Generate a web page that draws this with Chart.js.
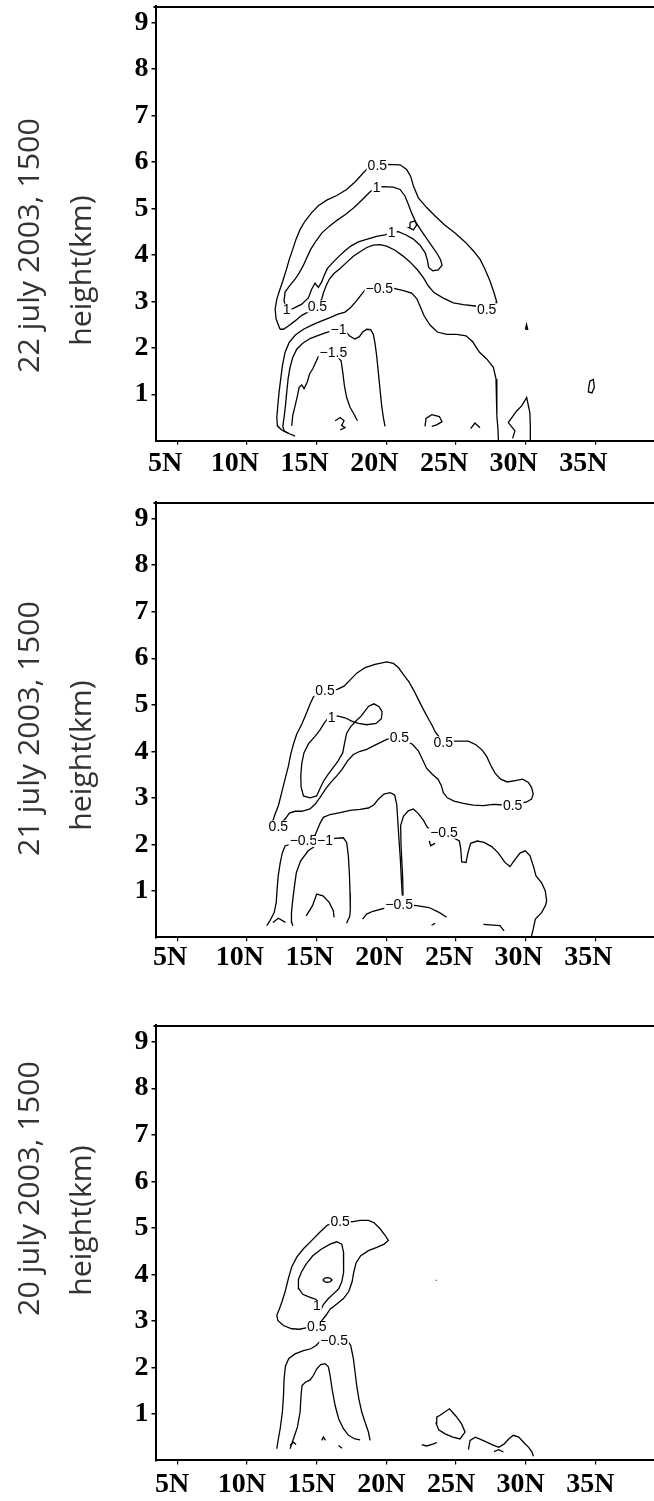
<!DOCTYPE html>
<html>
<head>
<meta charset="utf-8">
<script src="https://cdn.jsdelivr.net/npm/chart.js@4.4.1/dist/chart.umd.min.js"></script>
<style>
  html, body { margin: 0; padding: 0; background: #fff; width: 654px; height: 1501px; overflow: hidden; }
  canvas { position: absolute; left: 0; }
  .side { position: absolute; font-family: 'Open Sans', sans-serif; font-size: 29px; line-height: 1; color: #333; white-space: nowrap; transform-origin: center center; }
</style>
</head>
<body>
<script>
// axes
var latTicks = [5, 10, 15, 20, 25, 30, 35];
var latLabels = ['5N', '10N', '15N', '20N', '25N', '30N', '35N'];
var heightTicks = [1, 2, 3, 4, 5, 6, 7, 8, 9];
var dateTitles = ['22 july 2003, 1500', '21 july 2003, 1500', '20 july 2003, 1500'];
var heightTitle = 'height(km)';

// ---- 22 july: contour lines as [lat, height km] ----
var p1_c05 = [[12.38,2.40],[12.10,2.62],[12.03,2.83],[12.15,3.05],[12.34,3.23],[12.58,3.44],[12.81,3.66],[13.05,3.91],[13.29,4.12],[13.53,4.34],[13.82,4.55],[14.18,4.73],[14.65,4.91],[15.13,5.06],[15.73,5.18],[16.45,5.28],[17.16,5.41],[17.76,5.57],[18.36,5.77],[18.72,5.88],[19.36,5.93],[20.03,5.95],[20.99,5.94],[21.46,5.84],[21.75,5.69],[21.94,5.49],[22.30,5.23],[22.90,5.02],[23.50,4.84],[24.21,4.64],[24.93,4.47],[25.65,4.28],[26.24,4.09],[26.72,3.91],[27.08,3.69],[27.44,3.44],[27.72,3.19],[27.92,2.99],[27.87,2.87],[27.20,2.85],[26.36,2.90],[25.53,2.93],[24.81,2.97],[24.09,3.07],[23.42,3.19],[23.02,3.33],[22.66,3.51],[22.23,3.68],[21.70,3.85],[21.18,3.98],[20.63,4.10],[20.03,4.19],[19.55,4.22],[19.07,4.21],[18.60,4.16],[18.12,4.07],[17.64,3.97],[17.16,3.84],[16.69,3.71],[16.25,3.60],[15.92,3.48],[15.68,3.33],[15.49,3.18],[15.37,3.05],[15.06,2.89],[14.45,2.78],[13.94,2.70],[13.46,2.58],[12.98,2.47],[12.62,2.40],[12.38,2.40]];
var p1_c1 = [[12.86,2.82],[12.67,3.01],[12.74,3.20],[13.05,3.33],[13.46,3.48],[13.77,3.62],[14.06,3.78],[14.30,3.94],[14.58,4.12],[14.96,4.30],[15.37,4.47],[15.92,4.62],[16.49,4.75],[17.12,4.88],[17.69,5.02],[18.31,5.20],[18.84,5.36],[19.31,5.45],[19.67,5.47],[20.51,5.46],[20.99,5.41],[21.34,5.27],[21.58,5.09],[21.82,4.90],[22.11,4.71],[22.47,4.54],[22.90,4.35],[23.30,4.18],[23.66,4.02],[23.90,3.89],[24.00,3.78],[23.73,3.68],[23.33,3.66],[23.04,3.73],[22.95,3.89],[22.78,4.05],[22.42,4.21],[21.94,4.34],[21.42,4.43],[20.87,4.50],[20.39,4.48],[19.91,4.43],[19.31,4.40],[18.64,4.34],[18.00,4.28],[17.45,4.19],[17.04,4.09],[16.64,3.98],[16.21,3.85],[15.78,3.71],[15.54,3.55],[15.37,3.42],[15.13,3.30],[14.89,3.39],[14.65,3.26],[14.42,3.08],[13.94,2.94],[13.34,2.85],[12.98,2.82],[12.86,2.82]];
var p1_c1_small = [[21.70,4.70],[22.06,4.73],[22.18,4.64],[21.94,4.54],[21.63,4.59],[21.70,4.70]];
var p1_n05 = [[12.98,0.16],[12.50,0.23],[12.19,0.32],[12.15,0.50],[12.22,0.75],[12.31,1.04],[12.43,1.33],[12.55,1.61],[12.74,1.90],[13.03,2.11],[13.46,2.27],[14.06,2.40],[14.73,2.50],[15.37,2.58],[15.97,2.65],[16.49,2.72],[17.04,2.77],[17.45,2.87],[17.83,3.00],[18.17,3.13],[18.48,3.25],[19.50,3.28],[20.56,3.28],[21.23,3.23],[21.82,3.18],[22.18,3.06],[22.42,2.90],[22.71,2.69],[23.14,2.49],[23.66,2.34],[24.33,2.29],[25.05,2.29],[25.72,2.26],[26.20,2.13],[26.67,1.91],[27.20,1.76],[27.68,1.58],[27.87,1.33],[27.92,0.90],[27.94,0.54],[28.01,0.25],[28.04,0.00]];
var p1_n1 = [[13.46,0.10],[13.05,0.15],[12.67,0.21],[12.58,0.31],[12.67,0.50],[12.77,0.75],[12.86,1.04],[12.96,1.33],[13.10,1.58],[13.29,1.79],[13.58,1.97],[14.01,2.10],[14.53,2.20],[15.13,2.27],[15.73,2.33],[16.09,2.36],[16.57,2.39],[17.04,2.37],[17.35,2.26],[17.74,2.19],[18.07,2.24],[18.31,2.34],[18.60,2.40],[18.88,2.39],[19.07,2.29],[19.19,2.10],[19.31,1.83],[19.43,1.47],[19.55,1.11],[19.67,0.75],[19.79,0.50],[19.91,0.31]];
var p1_n15 = [[13.22,0.32],[13.29,0.54],[13.46,0.75],[13.63,0.97],[13.75,1.15],[13.94,1.20],[14.10,1.12],[14.34,1.27],[14.49,1.43],[14.73,1.55],[14.96,1.70],[15.13,1.81],[16.21,1.90],[16.76,1.72],[16.88,1.47],[17.00,1.18],[17.16,0.93],[17.40,0.72],[17.69,0.57],[17.93,0.43]];
var p1_hook = [[16.33,0.43],[16.69,0.50],[16.97,0.43],[16.80,0.33],[17.04,0.28],[16.69,0.23]];
var p1_cell = [[22.78,0.31],[22.85,0.48],[23.26,0.56],[23.81,0.52],[24.00,0.41],[23.61,0.34],[23.26,0.31]];
var p1_arch = [[26.05,0.26],[26.36,0.38],[26.72,0.28]];
var p1_spike = [[30.33,0.00],[30.33,0.30],[30.30,0.60],[30.07,0.93],[29.71,0.75],[29.35,0.64],[28.75,0.39],[29.23,0.21],[29.06,0.05]];
var p1_tri = [[29.98,2.40],[30.14,2.40],[30.06,2.50],[29.98,2.40]];
var p1_ring = [[34.50,1.10],[34.60,1.28],[34.85,1.32],[34.92,1.15],[34.75,1.03],[34.50,1.05],[34.50,1.10]];
var p1_labels = [[19.36,5.92,'0.5'],[19.31,5.45,'1'],[20.39,4.48,'1'],[19.50,3.28,'\u22120.5'],[27.20,2.83,'0.5'],[12.86,2.82,'1'],[15.06,2.89,'0.5'],[16.57,2.39,'\u22121'],[16.21,1.90,'\u22121.5']];

// ---- 21 july ----
var p2_c05 = [[12.26,2.38],[11.86,2.50],[12.03,2.65],[12.26,2.83],[12.50,3.11],[12.74,3.40],[12.98,3.68],[13.15,3.94],[13.34,4.15],[13.58,4.37],[13.94,4.58],[14.25,4.80],[14.53,5.01],[14.77,5.17],[15.61,5.30],[16.49,5.33],[16.97,5.40],[17.40,5.53],[17.88,5.68],[18.48,5.80],[19.19,5.87],[20.03,5.92],[20.51,5.89],[20.87,5.80],[21.23,5.65],[21.63,5.49],[21.99,5.30],[22.32,5.10],[22.66,4.90],[23.02,4.70],[23.30,4.55],[23.50,4.42],[24.09,4.19],[24.93,4.22],[25.88,4.22],[26.43,4.14],[26.86,4.03],[27.20,3.89],[27.49,3.70],[27.80,3.53],[28.20,3.40],[28.68,3.34],[29.25,3.37],[29.78,3.40],[30.19,3.33],[30.42,3.22],[30.54,3.08],[30.42,2.97],[30.07,2.91],[29.06,2.84],[28.20,2.85],[27.68,2.86],[26.96,2.83],[26.24,2.84],[25.53,2.88],[24.86,2.93],[24.38,3.00],[24.09,3.11],[23.95,3.26],[23.71,3.40],[23.28,3.51],[22.90,3.63],[22.59,3.83],[22.30,4.01],[21.87,4.15],[20.94,4.30],[20.08,4.26],[19.60,4.19],[19.12,4.12],[18.60,4.04],[18.12,4.00],[17.64,3.93],[17.21,3.79],[16.83,3.61],[16.45,3.47],[16.02,3.33],[15.63,3.18],[15.25,3.01],[14.89,2.86],[14.53,2.76],[13.94,2.71],[13.46,2.71],[13.05,2.67],[12.81,2.57],[12.26,2.38]];
var p2_c1 = [[16.09,4.72],[16.49,4.76],[17.04,4.72],[17.52,4.65],[18.00,4.60],[18.60,4.57],[19.27,4.60],[19.65,4.70],[19.70,4.85],[19.48,4.96],[19.12,5.02],[18.74,4.97],[18.48,4.87],[18.21,4.76],[17.83,4.65],[17.45,4.53],[17.16,4.39],[17.02,4.19],[16.88,3.97],[16.54,3.79],[16.16,3.64],[15.80,3.49],[15.49,3.35],[15.25,3.20],[15.01,3.04],[14.53,3.00],[14.06,3.04],[13.89,3.24],[13.87,3.47],[13.94,3.74],[14.10,3.97],[14.44,4.17],[14.89,4.32],[15.25,4.46],[15.54,4.60],[15.78,4.70],[16.09,4.72]];
var p2_n05_west = [[11.43,0.25],[11.66,0.36],[11.96,0.53],[12.11,0.75],[12.17,1.03],[12.25,1.32],[12.40,1.61],[12.55,1.82],[12.75,1.97],[14.06,2.07],[14.90,2.20],[15.25,2.45],[15.49,2.58],[15.97,2.64],[16.69,2.68],[17.40,2.73],[18.12,2.75],[18.72,2.78],[19.12,2.85],[19.43,2.97],[19.84,3.08],[20.27,3.11],[20.60,3.06],[20.75,2.86],[20.82,2.54],[20.91,2.11],[21.01,1.68],[21.08,1.25],[21.15,0.90]];
var p2_n05_east = [[21.20,0.90],[21.18,1.25],[21.06,1.97],[21.03,2.40],[21.23,2.60],[21.58,2.72],[21.94,2.76],[22.30,2.66],[22.66,2.52],[22.95,2.36],[24.14,2.25],[25.24,2.07],[25.34,1.90],[25.41,1.62],[25.72,1.61],[25.86,1.82],[26.05,2.02],[26.53,2.07],[27.01,2.04],[27.56,1.95],[28.04,1.81],[28.51,1.61],[28.87,1.52],[29.23,1.67],[29.59,1.81],[29.97,1.86],[30.31,1.75],[30.54,1.54],[30.74,1.32],[31.14,1.17],[31.40,1.00],[31.50,0.79],[31.44,0.70],[31.14,0.53],[30.69,0.39],[30.54,0.18],[30.39,0.00]];
var p2_n05_low = [[18.30,0.39],[18.59,0.50],[19.04,0.56],[20.92,0.71],[22.18,0.68],[23.07,0.64],[23.82,0.53],[24.33,0.43]];
var p2_hook = [[23.09,2.07],[23.18,1.97],[23.50,2.02]];
var p2_n1 = [[13.30,0.25],[13.22,0.32],[13.20,0.53],[13.30,0.82],[13.42,1.11],[13.55,1.39],[13.85,1.64],[14.40,1.86],[15.10,2.00],[15.61,2.07],[16.02,2.12],[16.92,2.14],[17.16,2.04],[17.28,1.75],[17.35,1.40],[17.40,0.96],[17.42,0.61],[17.38,0.45],[17.15,0.30]];
var p2_hump = [[14.26,0.46],[14.71,0.68],[15.01,0.93],[15.46,0.89],[15.91,0.75],[16.20,0.57],[16.26,0.43]];
var p2_arc = [[11.87,0.32],[12.26,0.41],[12.77,0.32]];
var p2_dash = [[23.25,0.26],[23.50,0.30]];
var p2_tail = [[26.96,0.28],[28.15,0.25],[28.45,0.14]];
var p2_labels = [[15.61,5.30,'0.5'],[16.09,4.72,'1'],[20.94,4.30,'0.5'],[24.09,4.19,'0.5'],[29.06,2.84,'0.5'],[12.26,2.38,'0.5'],[14.06,2.07,'\u22120.5'],[15.61,2.07,'\u22121'],[24.14,2.25,'\u22120.5'],[20.92,0.71,'\u22120.5']];

// ---- 20 july ----
var p3_c05 = [[16.69,5.13],[17.52,5.13],[18.12,5.16],[18.72,5.16],[19.13,5.11],[19.56,4.98],[19.91,4.84],[20.15,4.73],[19.84,4.65],[19.32,4.58],[18.72,4.51],[18.17,4.40],[17.84,4.25],[17.67,4.05],[17.55,3.84],[17.31,3.63],[16.93,3.48],[16.45,3.36],[15.97,3.25],[15.68,3.12],[15.02,2.87],[14.25,2.85],[13.77,2.82],[13.22,2.83],[12.63,2.90],[12.22,3.01],[12.15,3.12],[12.34,3.26],[12.53,3.42],[12.75,3.63],[12.98,3.91],[13.22,4.16],[13.58,4.37],[14.06,4.55],[14.66,4.73],[15.25,4.91],[15.78,5.06],[16.69,5.13]];
var p3_c1 = [[15.02,3.32],[14.97,3.46],[14.49,3.51],[14.01,3.57],[13.73,3.69],[13.70,3.89],[13.92,4.05],[14.25,4.22],[14.73,4.40],[15.33,4.54],[15.97,4.65],[16.45,4.70],[16.81,4.65],[16.93,4.48],[16.95,4.25],[16.93,4.04],[16.81,3.84],[16.59,3.69],[16.21,3.58],[15.85,3.48],[15.49,3.35],[15.30,3.23],[15.02,3.32]];
var p3_core = [[15.45,3.88],[15.60,3.92],[15.78,3.93],[15.96,3.92],[16.11,3.88],[15.96,3.84],[15.78,3.83],[15.60,3.84],[15.45,3.88]];
var p3_n05 = [[12.15,0.25],[12.22,0.39],[12.39,0.68],[12.55,1.04],[12.63,1.40],[12.67,1.75],[12.77,2.03],[13.01,2.19],[13.46,2.29],[14.06,2.36],[14.59,2.40],[14.97,2.47],[15.25,2.56],[16.26,2.58],[17.21,2.58],[17.45,2.47],[17.64,2.19],[17.76,1.90],[17.88,1.61],[18.03,1.33],[18.24,1.04],[18.48,0.82],[18.72,0.61],[18.84,0.43]];
var p3_n1 = [[13.10,0.25],[13.34,0.46],[13.63,0.72],[13.82,1.04],[13.89,1.40],[13.96,1.61],[14.20,1.68],[14.54,1.73],[14.78,1.83],[15.02,1.97],[15.30,2.06],[15.61,2.08],[15.85,2.01],[15.97,1.83],[16.11,1.54],[16.33,1.18],[16.59,0.89],[16.93,0.68],[17.29,0.54],[17.76,0.46],[18.12,0.44]];
var p3_bitA = [[13.10,0.32],[13.34,0.39],[13.53,0.34]];
var p3_bitB = [[15.37,0.43],[15.49,0.50],[15.64,0.43]];
var p3_bitC = [[16.57,0.32],[16.83,0.26]];
var p3_cell = [[23.86,0.97],[24.53,1.11],[25.00,0.95],[25.39,0.79],[25.65,0.61],[25.29,0.46],[24.77,0.50],[24.22,0.57],[23.76,0.66],[23.57,0.80],[23.62,0.93],[23.86,0.97]];
var p3_seg = [[22.54,0.34],[22.90,0.31],[23.33,0.35],[23.62,0.38]];
var p3_wave = [[25.89,0.23],[26.01,0.43],[26.39,0.50],[27.01,0.42],[27.58,0.34],[28.06,0.28],[28.44,0.35],[28.78,0.46],[29.11,0.54],[29.50,0.50],[29.88,0.38],[30.21,0.28],[30.45,0.18],[30.55,0.09]];
var p3_small = [[27.73,0.19],[28.06,0.23],[28.40,0.18]];
var p3_dot = [[23.55,3.87],[23.61,3.87]];
var p3_labels = [[16.69,5.13,'0.5'],[15.02,3.32,'1'],[15.02,2.87,'0.5'],[16.26,2.58,'\u22120.5']];

var panelLines = [
  [p1_c05, p1_c1, p1_c1_small, p1_n05, p1_n1, p1_n15, p1_hook, p1_cell, p1_arch, p1_spike, p1_tri, p1_ring],
  [p2_c05, p2_c1, p2_n05_west, p2_n05_east, p2_n05_low, p2_hook, p2_n1, p2_hump, p2_arc, p2_dash, p2_tail],
  [p3_c05, p3_c1, p3_core, p3_n05, p3_n1, p3_bitA, p3_bitB, p3_bitC, p3_cell, p3_seg, p3_wave, p3_small, p3_dot]
];
var panelLabels = [p1_labels, p2_labels, p3_labels];

// page layout (pixels)
var layout = [
  { top: 6, bottom: 440.7, labelShift: -12, labelPad: 2.5, titleY: 245, hY: 270 },
  { top: 502, bottom: 937.3, labelShift: -7, labelPad: 0, titleY: 728, hY: 755 },
  { top: 1025.3, bottom: 1460.7, labelShift: -5, labelPad: 3.5, titleY: 1188, hY: 1220 }
];
var CANVAS_H = 500, TOP_PAD = 6, Y_AXIS_W = 155.5;

function labelPlugin(items) {
  return {
    id: 'contourLabels',
    afterDatasetsDraw: function (chart) {
      var ctx = chart.ctx, xs = chart.scales.x, ys = chart.scales.y;
      ctx.save();
      ctx.font = '14px "Liberation Sans", Arial, sans-serif';
      ctx.textAlign = 'center';
      ctx.textBaseline = 'middle';
      items.forEach(function (it) {
        var px = xs.getPixelForValue(it[0]), py = ys.getPixelForValue(it[1]);
        var w = ctx.measureText(it[2]).width;
        ctx.fillStyle = '#fff';
        ctx.fillRect(px - w / 2 - 1, py - 6, w + 2, 12);
        ctx.fillStyle = '#000';
        ctx.fillText(it[2], px, py + 0.5);
      });
      ctx.restore();
    }
  };
}

var topBorder = {
  id: 'topBorder',
  afterDraw: function (chart) {
    var a = chart.chartArea, ctx = chart.ctx;
    ctx.save();
    ctx.strokeStyle = '#000';
    ctx.lineWidth = 2;
    ctx.beginPath();
    ctx.moveTo(a.left - 2, a.top + 1);
    ctx.lineTo(a.right, a.top + 1);
    ctx.stroke();
    ctx.restore();
  }
};

function noPad(ax) {
  ax.paddingTop = 0; ax.paddingBottom = 0; ax.paddingLeft = 0; ax.paddingRight = 0;
}

function addSide(text, cx, cy, len) {
  var d = document.createElement('div');
  d.className = 'side';
  d.textContent = text;
  document.body.appendChild(d);
  var w = d.offsetWidth, h = d.offsetHeight;
  d.style.left = (cx - w / 2) + 'px';
  d.style.top = (cy - h / 2) + 'px';
  d.style.transform = 'rotate(-90deg) scaleX(' + (len / w).toFixed(3) + ')';
}

layout.forEach(function (L, i) {
  var cv = document.createElement('canvas');
  cv.width = 654;
  cv.height = CANVAS_H;
  cv.style.top = (L.top - TOP_PAD) + 'px';
  document.body.appendChild(cv);
  var xAxisH = CANVAS_H - TOP_PAD - (L.bottom - L.top);

  var datasets = panelLines[i].map(function (line) {
    return {
      data: line.map(function (p) { return { x: p[0], y: p[1] }; }),
      showLine: true,
      pointRadius: 0,
      borderColor: '#000',
      borderWidth: 1.3,
      fill: false,
      tension: 0
    };
  });

  new Chart(cv.getContext('2d'), {
    type: 'scatter',
    data: { datasets: datasets },
    options: {
      responsive: false,
      animation: false,
      events: [],
      layout: { padding: { top: TOP_PAD, left: 0, right: 0, bottom: 0 } },
      plugins: { legend: { display: false }, tooltip: { enabled: false } },
      scales: {
        x: {
          type: 'linear', min: 3.45, max: 39.2,
          afterBuildTicks: function (ax) { ax.ticks = latTicks.map(function (v) { return { value: v }; }); },
          afterFit: function (ax) { ax.height = xAxisH; noPad(ax); },
          ticks: {
            autoSkip: false, maxRotation: 0, color: '#000',
            padding: L.labelPad, labelOffset: L.labelShift,
            font: { family: '"Liberation Serif", "Times New Roman", serif', size: 28, weight: 'bold' },
            callback: function (v) { return latLabels[latTicks.indexOf(v)]; }
          },
          grid: { drawOnChartArea: false, drawTicks: true, tickLength: 4, color: '#000', lineWidth: 1.2 },
          border: { display: true, color: '#000', width: 2 }
        },
        y: {
          type: 'linear', min: 0, max: 9.36,
          afterBuildTicks: function (ax) { ax.ticks = heightTicks.map(function (v) { return { value: v }; }); },
          afterFit: function (ax) { ax.width = Y_AXIS_W; noPad(ax); },
          ticks: {
            autoSkip: false, color: '#000', padding: 3,
            font: { family: '"Liberation Serif", "Times New Roman", serif', size: 28, weight: 'bold' },
            callback: function (v) { return String(v); }
          },
          grid: { drawOnChartArea: false, drawTicks: true, tickLength: 4, color: '#000', lineWidth: 1.5 },
          border: { display: true, color: '#000', width: 2 }
        }
      }
    },
    plugins: [topBorder, labelPlugin(panelLabels[i])]
  });

  addSide(dateTitles[i], 27, L.titleY, 255);
  addSide(heightTitle, 79, L.hY, 150);
});
</script>
</body>
</html>
